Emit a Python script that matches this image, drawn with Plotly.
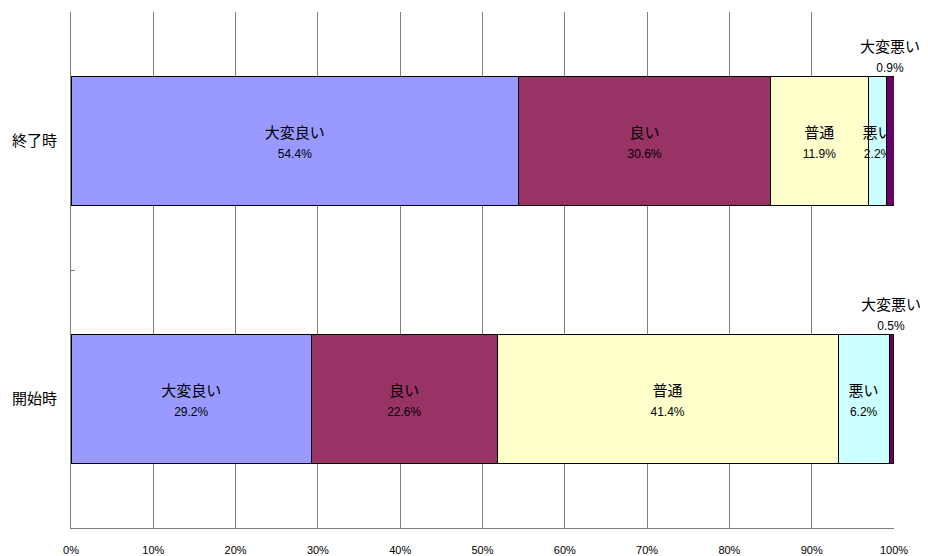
import plotly.graph_objects as go

categories = ["開始時", "終了時"]
series_names = ["大変良い", "良い", "普通", "悪い", "大変悪い"]
values = {
    "大変良い": [29.2, 54.4],
    "良い": [22.6, 30.6],
    "普通": [41.4, 11.9],
    "悪い": [6.2, 2.2],
    "大変悪い": [0.5, 0.9],
}
colors = {
    "大変良い": "#9999FF",
    "良い": "#993366",
    "普通": "#FFFFCC",
    "悪い": "#CCFFFF",
    "大変悪い": "#660066",
}
x_ticks = list(range(0, 101, 10))

CJK = "Noto Sans CJK JP"
NUM = "Liberation Sans"

fig = go.Figure()
outside = "大変悪い"
for name in series_names:
    vals = values[name]
    if name != outside:
        texts = [f"{name}<br><span style='font-size:12px;font-family:{NUM}'>{v:.1f}%</span>" for v in vals]
    else:
        texts = None
    fig.add_trace(go.Bar(
        name=name, y=categories, x=vals, orientation="h",
        marker=dict(color=colors[name], line=dict(color="#000000", width=1)),
        text=texts,
        textposition="inside" if texts else "none",
        insidetextanchor="middle",
        textangle=0,
        insidetextfont=dict(color="#000000", size=15, family=CJK),
        hoverinfo="skip",
    ))

# labels above the smallest segment
for i, cat in enumerate(categories):
    start = sum(values[n][i] for n in series_names[:-1])
    v = values[outside][i]
    fig.add_annotation(
        x=start + v / 2, y=cat, xref="x", yref="y",
        text=f"{outside}<br><span style='font-size:12px;font-family:{NUM}'>{v:.1f}%</span>",
        showarrow=False, yanchor="bottom", yshift=64,
        font=dict(size=15, family=CJK, color="#000000"),
    )

# page body adds an 8px margin; compensate so the plot area lands where the reference has it
fig.update_layout(
    barmode="stack", bargap=0.5,
    width=920, height=548,
    margin=dict(l=63, r=34, t=4, b=28, autoexpand=False),
    paper_bgcolor="white", plot_bgcolor="white",
    showlegend=False,
    uniformtext=dict(minsize=15, mode="show"),
    font=dict(family=CJK, color="#000000"),
)
fig.update_xaxes(
    range=[0, 100], tickvals=x_ticks, ticktext=[f"{t}%" for t in x_ticks],
    showgrid=True, gridcolor="#808080", gridwidth=1,
    showline=True, linecolor="#808080", linewidth=1,
    zeroline=False, ticks="", ticklabelstandoff=12, automargin=False,
    tickfont=dict(family=NUM, size=11, color="#000000"),
)
fig.update_yaxes(
    categoryorder="array", categoryarray=categories,
    showline=True, linecolor="#808080", linewidth=1,
    showgrid=False, ticks="inside", ticklen=4, tickcolor="#808080",
    tickson="boundaries", ticklabelstandoff=10, automargin=False,
    tickfont=dict(family=CJK, size=15, color="#000000"),
)
fig.write_html("out.html")
